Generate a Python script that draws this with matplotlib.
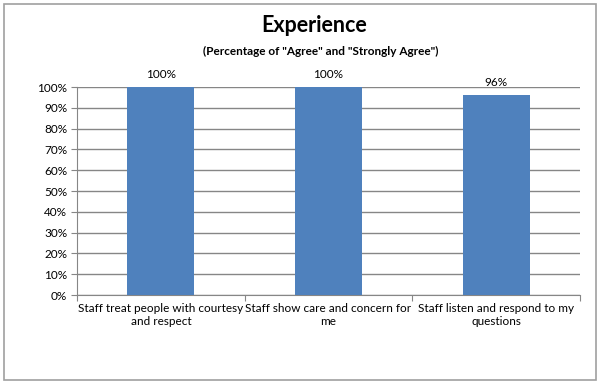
import matplotlib
matplotlib.use("Agg")
import matplotlib.pyplot as plt
from matplotlib.patches import Rectangle
from matplotlib.ticker import MultipleLocator, FuncFormatter, FixedLocator

categories = ["Staff treat people with courtesy\nand respect",
              "Staff show care and concern for\nme",
              "Staff listen and respond to my\nquestions"]
values = [100, 100, 96]
labels = ["100%", "100%", "96%"]

plt.rcParams['font.family'] = ['Lato', 'DejaVu Sans']

fig = plt.figure(figsize=(6, 3.84), dpi=100)
fig.patches.append(Rectangle((4/600, 4/384), 592/600, 376/384, transform=fig.transFigure,
                             fill=False, edgecolor='#a0a0a0', linewidth=1.2))

ax = fig.add_axes([77/600, 1-295/384, 503/600, 208/384])
x = list(range(len(categories)))
bars = ax.bar(x, values, width=0.4, color='#4f81bd', zorder=3)
ax.set_xlim(-0.5, 2.5)
ax.set_ylim(0, 100)
ax.yaxis.set_major_locator(MultipleLocator(10))
ax.yaxis.set_major_formatter(FuncFormatter(lambda v, p: f"{int(v)}%"))
ax.grid(axis='y', color='#868686', linewidth=1, zorder=0)
ax.set_axisbelow(True)
for s in ['top', 'right']:
    ax.spines[s].set_visible(False)
for s in ['left', 'bottom']:
    ax.spines[s].set_color('#868686')
ax.tick_params(axis='y', length=4, color='#868686', labelsize=8.5, pad=3)
ax.xaxis.set_major_locator(FixedLocator([-0.5, 0.5, 1.5, 2.5]))
ax.xaxis.set_major_formatter(FuncFormatter(lambda v, p: ""))
ax.xaxis.set_minor_locator(FixedLocator(x))
ax.set_xticklabels(categories, minor=True)
ax.tick_params(axis='x', which='major', length=4, color='#868686')
ax.tick_params(axis='x', which='minor', length=0, labelsize=8.5, pad=6)

for xi, v, lab in zip(x, values, labels):
    ax.annotate(lab, (xi, v), xytext=(0, 5), textcoords='offset points',
                ha='center', va='bottom', fontsize=8.5)

fig.text(314/600, 1-25/384, "Experience", ha='center', va='center', fontsize=15.5, fontweight='bold')
fig.text(321/600, 1-51/384, '(Percentage of "Agree" and "Strongly Agree")', ha='center', va='center',
         fontsize=8.5, fontweight='bold')

fig.savefig("out.png", dpi=100)
